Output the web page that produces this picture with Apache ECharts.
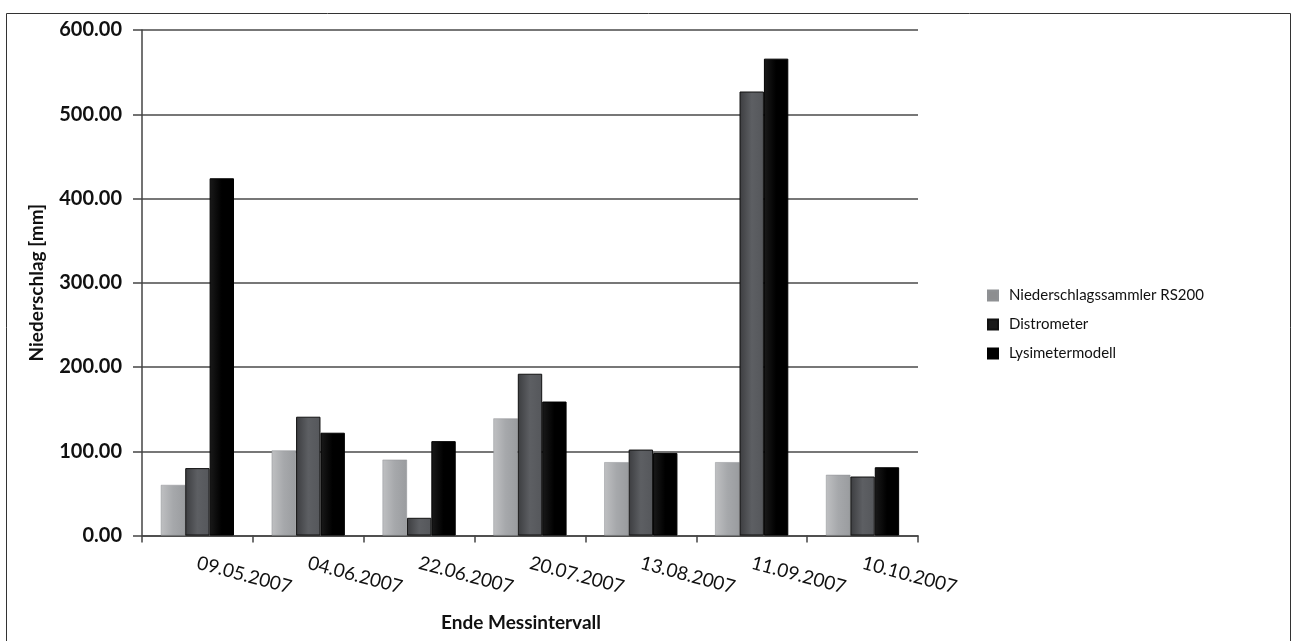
<!DOCTYPE html>
<html>
<head>
<meta charset="utf-8">
<script src="https://cdn.jsdelivr.net/npm/echarts@6/dist/echarts.min.js"></script>
<style>
html,body{margin:0;padding:0;background:#fff;}
#chart{width:1293px;height:641px;}
</style>
</head>
<body>
<div id="chart"></div>
<script>
const categories = ['09.05.2007','04.06.2007','22.06.2007','20.07.2007','13.08.2007','11.09.2007','10.10.2007'];
const sammler = [60, 101, 90, 139, 87, 87, 72];
const distrometer = [80, 141, 21, 192, 102, 527, 70];
const lysimeter = [424, 122, 112, 159, 98, 566, 81];
const yTicks = [0, 100, 200, 300, 400, 500, 600];

const FONT = 'Lato, "Open Sans", sans-serif';
function grad(c1, c2, c3) {
  return new echarts.graphic.LinearGradient(0, 0, 1, 0, [
    {offset: 0, color: c1}, {offset: 0.5, color: c2}, {offset: 1, color: c3}
  ]);
}
const chart = echarts.init(document.getElementById('chart'));
chart.setOption({
  backgroundColor: '#fff',
  animation: false,
  graphic: [{
    type: 'rect', shape: {x: 6.5, y: 13.5, width: 1284, height: 640},
    style: {fill: 'none', stroke: '#333', lineWidth: 1}, silent: true, z: -1
  }],
  legend: {
    orient: 'vertical', left: 982, top: 283, itemGap: 14,
    icon: 'rect', itemWidth: 10, itemHeight: 10,
    textStyle: {fontFamily: FONT, fontSize: 15, color: '#111', padding: [0, 0, 0, 6]},
    data: [
      {name: 'Niederschlagssammler RS200', itemStyle: {color: '#8d8e90'}},
      {name: 'Distrometer', itemStyle: {color: '#1a1a1a'}},
      {name: 'Lysimetermodell', itemStyle: {color: '#000'}}
    ]
  },
  grid: {left: 142, right: 375, top: 30, bottom: 105.5, containLabel: false},
  xAxis: {
    type: 'category', data: categories, boundaryGap: true,
    name: 'Ende Messintervall', nameLocation: 'middle', nameGap: 78,
    nameTextStyle: {fontFamily: FONT, fontSize: 19, fontWeight: 'bold', color: '#111', padding: [0, 18, 0, 0]},
    axisLine: {lineStyle: {color: '#444', width: 1.5}},
    axisTick: {show: true, length: 7, lineStyle: {color: '#444', width: 1.5}},
    axisLabel: {rotate: -15, fontFamily: FONT, fontSize: 19, color: '#111', margin: 27, interval: 0}
  },
  yAxis: {
    type: 'value', min: 0, max: 600, interval: 100,
    name: 'Niederschlag [mm]', nameLocation: 'middle', nameGap: 96, nameRotate: 90,
    nameTextStyle: {fontFamily: FONT, fontSize: 19, fontWeight: 'bold', color: '#111'},
    axisLine: {show: true, lineStyle: {color: '#444', width: 1.5}},
    axisTick: {show: true, length: 9, inside: false, lineStyle: {color: '#444', width: 1.5}},
    axisLabel: {fontFamily: FONT, fontSize: 20, fontWeight: 'bold', color: '#111', margin: 20,
      formatter: v => yTicks.includes(v) ? v.toFixed(2) : ''},
    splitLine: {show: true, lineStyle: {color: '#4a4a4a', width: 1.5}}
  },
  series: [
    {name: 'Niederschlagssammler RS200', type: 'bar', data: sammler, barGap: '0%', barCategoryGap: '34%',
      itemStyle: {color: grad('#bfc0c2', '#a6a8ab', '#9a9c9f'), borderColor: '#8f9194', borderWidth: 0.5}},
    {name: 'Distrometer', type: 'bar', data: distrometer,
      itemStyle: {color: grad('#3c3d40', '#5d5f63', '#55575b'), borderColor: '#111', borderWidth: 1}},
    {name: 'Lysimetermodell', type: 'bar', data: lysimeter,
      itemStyle: {color: grad('#1a1a1a', '#000', '#000'), borderColor: '#000', borderWidth: 1}}
  ]
});
</script>
</body>
</html>
